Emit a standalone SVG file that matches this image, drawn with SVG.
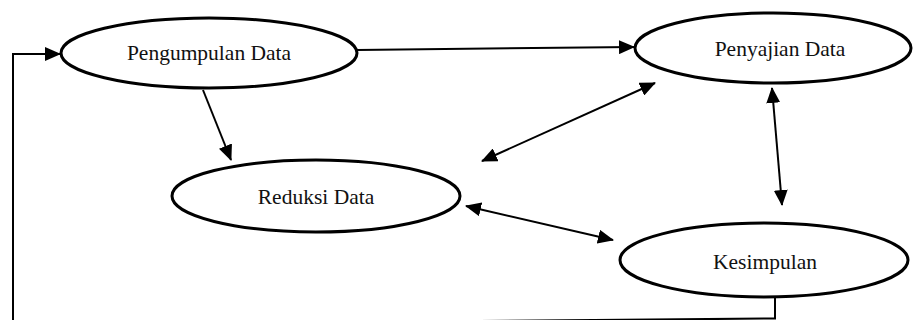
<svg xmlns="http://www.w3.org/2000/svg" width="913" height="320" viewBox="0 0 913 320">
<style>
.node ellipse{fill:#fff;stroke:#000;stroke-width:3}
.node text{font-family:'Liberation Serif','Times New Roman',Times,serif;font-size:21.5px;fill:#111;text-anchor:middle;dominant-baseline:central}
.conn line,.conn polyline{stroke:#000;stroke-width:2;fill:none}
</style>
<defs>
<marker id="ah" markerUnits="userSpaceOnUse" markerWidth="16" markerHeight="14" refX="15" refY="7" orient="auto-start-reverse" viewBox="0 0 16 14">
<path d="M0,0 L16,7 L0,14 Z" fill="#000"/>
</marker>
</defs>
<g class="conn" id="connectors">
<polyline points="13,322 13,54 60,54" marker-end="url(#ah)"/>
<line x1="357" y1="50" x2="634" y2="47" marker-end="url(#ah)"/>
<line x1="203" y1="90" x2="231" y2="160" marker-end="url(#ah)"/>
<line x1="482" y1="161" x2="655" y2="83" marker-start="url(#ah)" marker-end="url(#ah)"/>
<line x1="772" y1="88" x2="782" y2="205" marker-start="url(#ah)" marker-end="url(#ah)"/>
<line x1="466" y1="206" x2="613" y2="240" marker-start="url(#ah)" marker-end="url(#ah)"/>
<polyline points="775,297 775,318.5 420,321.5"/>
</g>
<g class="node" id="pengumpulan">
<ellipse cx="209" cy="53" rx="148" ry="35"/>
<text x="209" y="53">Pengumpulan Data</text>
</g>
<g class="node" id="penyajian">
<ellipse cx="773" cy="48" rx="138" ry="35"/>
<text x="780" y="49">Penyajian Data</text>
</g>
<g class="node" id="reduksi">
<ellipse cx="316" cy="196" rx="144" ry="36"/>
<text x="316" y="197">Reduksi Data</text>
</g>
<g class="node" id="kesimpulan">
<ellipse cx="764" cy="260" rx="144" ry="37"/>
<text x="765" y="262">Kesimpulan</text>
</g>
</svg>
